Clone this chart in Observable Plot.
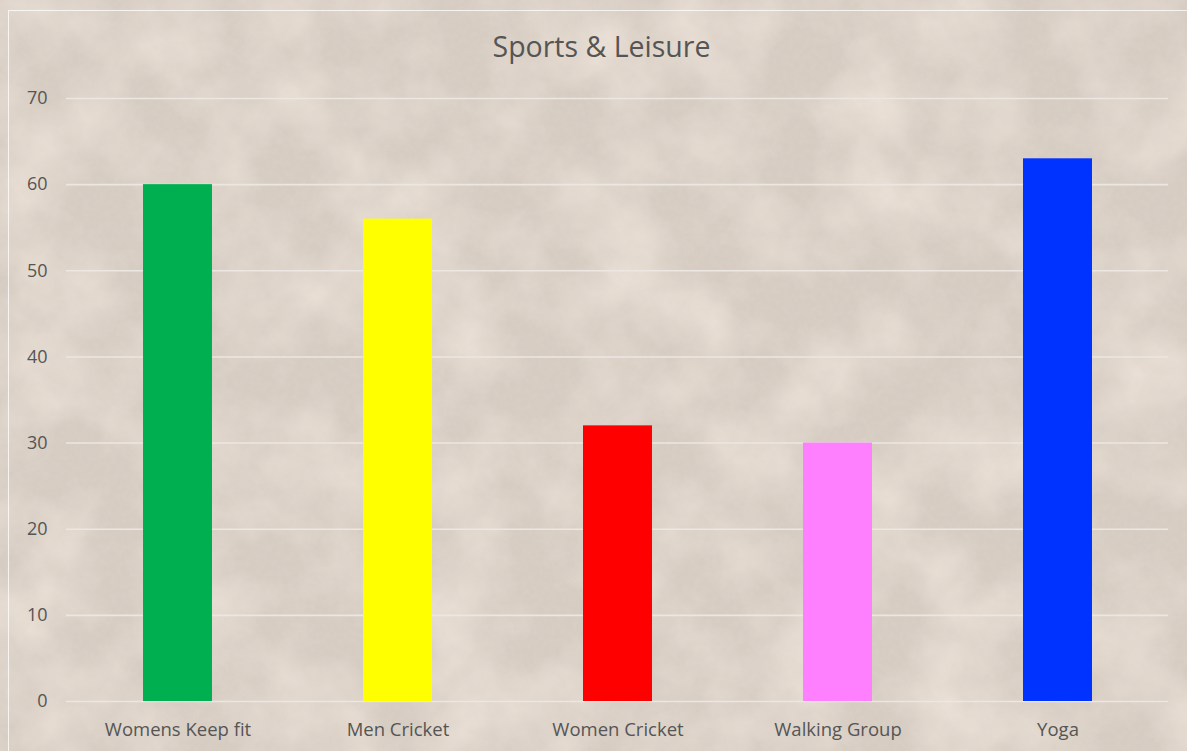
<!DOCTYPE html>
<html>
<head>
<meta charset="utf-8">
<script src="https://cdn.jsdelivr.net/npm/d3@7"></script>
<script src="https://cdn.jsdelivr.net/npm/@observablehq/plot@0.6"></script>
<style>
  html, body { margin: 0; padding: 0; }
  body { width: 1187px; height: 751px; overflow: hidden; background: #d8cec4; position: relative; font-family: "Open Sans", "Noto Sans", sans-serif; }
  #bg { position: absolute; left: 0; top: 0; width: 1187px; height: 751px; z-index: 0; }
  #frame { position: absolute; left: 8px; top: 10px; width: 1179px; height: 741px; border-top: 1.5px solid rgba(255,255,255,0.75); border-left: 1.5px solid rgba(255,255,255,0.75); z-index: 1; }
  #title { position: absolute; left: 0; top: 0; width: 1187px; height: 80px; text-align: center; font-size: 28.5px; line-height: 32px; padding-top: 30px; padding-left: 16px; box-sizing: border-box; color: #555555; z-index: 2; }
  #chart { position: absolute; left: 0; top: 80px; z-index: 2; }
  #chart svg { background: transparent !important; }
</style>
</head>
<body>
<svg id="bg" width="1187" height="751">
  <filter id="stone" x="0" y="0" width="100%" height="100%">
    <feTurbulence type="fractalNoise" baseFrequency="0.012" numOctaves="5" seed="7" result="n"/>
    <feColorMatrix type="matrix" in="n"
      values="0 0 0 0 0
              0 0 0 0 0
              0 0 0 0 0
              1.8 0 0 0 -0.65" result="a"/>
    <feFlood flood-color="#ece2d8" result="light"/>
    <feComposite in="light" in2="a" operator="in" result="patch"/>
    <feMerge><feMergeNode in="patch"/></feMerge>
  </filter>
  <filter id="grain" x="0" y="0" width="100%" height="100%">
    <feTurbulence type="fractalNoise" baseFrequency="0.18" numOctaves="3" seed="3" result="g"/>
    <feColorMatrix type="matrix" in="g"
      values="0 0 0 0 0.74
              0 0 0 0 0.69
              0 0 0 0 0.64
              0 0 0 0.9 -0.3"/>
  </filter>
  <rect width="1187" height="751" fill="#d6ccc2"/>
  <rect width="1187" height="751" filter="url(#stone)"/>
  <rect width="1187" height="751" filter="url(#grain)" opacity="0.45"/>
</svg>
<div id="frame"></div>
<div id="title">Sports &amp; Leisure</div>
<div id="chart"></div>
<script>
const categories = ["Womens Keep fit", "Men Cricket", "Women Cricket", "Walking Group", "Yoga"];
const values = [60, 56, 32, 30, 63];
const colors = ["#00b050", "#ffff00", "#ff0000", "#ff80ff", "#0033ff"];
const yTicks = [0, 10, 20, 30, 40, 50, 60, 70];

const data = categories.map((c, i) => ({category: c, value: values[i], color: colors[i]}));

const chart = Plot.plot({
  width: 1187,
  height: 671,
  marginTop: 18,
  marginBottom: 50,
  marginLeft: 66,
  marginRight: 19,
  style: {background: "transparent", fontFamily: "'Open Sans', 'Noto Sans', sans-serif", fontSize: "18px", color: "#595959"},
  x: {domain: categories, paddingInner: 0.687, paddingOuter: 0.3435, label: null, tickSize: 0},
  y: {domain: [0, 70], ticks: yTicks, label: null, tickSize: 0},
  marks: [
    Plot.ruleY(yTicks, {stroke: "#ebe7e3", strokeWidth: 1.6}),
    Plot.barY(data, {x: "category", y: "value", fill: "color"}),
    Plot.axisX({tickSize: 0, tickPadding: 21, fontSize: 18.5, fill: "#555555"}),
    Plot.axisY({ticks: yTicks, tickSize: 0, tickPadding: 19, fontSize: 18, fill: "#555555"})
  ]
});
document.getElementById("chart").appendChild(chart);
</script>
</body>
</html>
